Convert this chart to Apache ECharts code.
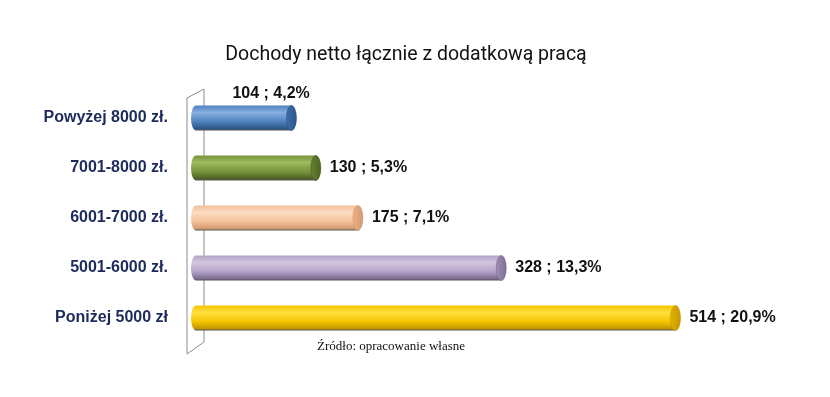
<!DOCTYPE html>
<html lang="pl">
<head>
    <meta charset="UTF-8">
    <title>Dochody netto</title>
    <script src="https://cdn.jsdelivr.net/npm/echarts@6/dist/echarts.min.js"></script>
    <style>
        html, body { margin: 0; padding: 0; background: #fff; }
        #main { width: 830px; height: 397px; }
    </style>
</head>
<body>
    <div id="main"></div>
    <script>
        var categories = ['Powyżej 8000 zł.', '7001-8000 zł.', '6001-7000 zł.', '5001-6000 zł.', 'Poniżej 5000 zł'];
        var counts = [104, 130, 175, 328, 514];
        var percents = ['4,2%', '5,3%', '7,1%', '13,3%', '20,9%'];

        // base, light, dark, cap
        var palette = [
            ['#4f81bd', '#86afe2', '#2c578c', '#3f6ea8'],
            ['#77933c', '#9dbb5f', '#4c6224', '#67822f'],
            ['#f4c19a', '#fcdcc2', '#d39a70', '#e9b185'],
            ['#b3a2c7', '#d2c6e0', '#7c6d91', '#a08fb6'],
            ['#f5c400', '#ffdf3d', '#c49700', '#e2b300']
        ];

        var G = { left: 191, right: 77, top: 93, bottom: 54 };
        var FONT = '"Liberation Sans Narrow", "Arial Narrow", "Liberation Sans", sans-serif';

        var chart = echarts.init(document.getElementById('main'));

        function renderBar(params, api) {
            var idx = api.value(0);
            var val = api.value(1);
            var p0 = api.coord([0, idx]);
            var p1 = api.coord([val, idx]);
            var h = api.size([0, 1])[1] * 0.5;
            var ry = h / 2, rx = 5;
            var x0 = p0[0], cy = p0[1];
            var x1 = p1[0] + 8; // cylinder end incl. cap
            var top = cy - ry, bot = cy + ry;
            var c = palette[idx];
            var body = 'M' + (x0 + rx) + ' ' + top + ' L' + (x1 - rx) + ' ' + top +
                ' A' + rx + ' ' + ry + ' 0 0 1 ' + (x1 - rx) + ' ' + bot +
                ' L' + (x0 + rx) + ' ' + bot +
                ' A' + rx + ' ' + ry + ' 0 0 1 ' + (x0 + rx) + ' ' + top + ' Z';
            var cx = x1 - rx;
            var cap = 'M' + (cx - rx) + ' ' + cy +
                ' A' + rx + ' ' + ry + ' 0 1 0 ' + (cx + rx) + ' ' + cy +
                ' A' + rx + ' ' + ry + ' 0 1 0 ' + (cx - rx) + ' ' + cy + ' Z';
            var label = counts[idx] + ' ; ' + percents[idx];
            var onTop = idx === 0;
            return {
                type: 'group',
                children: [
                    {
                        type: 'path',
                        shape: { pathData: body },
                        style: {
                            fill: new echarts.graphic.LinearGradient(0, 0, 0, 1, [
                                { offset: 0, color: c[0] },
                                { offset: 0.28, color: c[1] },
                                { offset: 0.65, color: c[0] },
                                { offset: 0.92, color: c[2] },
                                { offset: 1, color: '#555' }
                            ]),
                            stroke: null
                        }
                    },
                    {
                        type: 'path',
                        shape: { pathData: cap },
                        style: {
                            fill: new echarts.graphic.LinearGradient(0, 0, 1, 0, [
                                { offset: 0, color: c[3] },
                                { offset: 1, color: c[2] }
                            ]),
                            stroke: c[2],
                            lineWidth: 0.6
                        }
                    },
                    {
                        type: 'text',
                        style: {
                            text: label,
                            x: onTop ? x1 - 64 : x1 + 9,
                            y: onTop ? cy - 24 : cy,
                            align: 'left',
                            verticalAlign: 'middle',
                            fontFamily: FONT,
                            fontWeight: 'bold',
                            fontSize: 16,
                            fill: '#111'
                        }
                    }
                ]
            };
        }

        var seriesData = counts.map(function (v, i) { return [i, v]; });

        // 3D wall drawn from the grid box
        var gTop = G.top, gBot = 397 - G.bottom, gx = G.left;
        var wallStyle = { stroke: '#8c8c8c', lineWidth: 1, fill: null };

        chart.setOption({
            animation: false,
            title: {
                text: 'Dochody netto łącznie z dodatkową pracą',
                left: 401,
                top: 40,
                textAlign: 'center',
                textStyle: { fontFamily: 'Roboto, sans-serif', fontWeight: 'normal', fontSize: 19.5, color: '#111' }
            },
            grid: { left: G.left, right: G.right, top: G.top, bottom: G.bottom },
            xAxis: {
                type: 'value', min: 0, max: 600, show: false
            },
            yAxis: {
                type: 'category',
                inverse: true,
                data: categories,
                axisLine: { show: false },
                axisTick: { show: false },
                axisLabel: {
                    margin: 23,
                    color: '#1c2a5c',
                    fontFamily: FONT,
                    fontWeight: 'bold',
                    fontSize: 16
                }
            },
            graphic: [
                { type: 'polyline', z: 0, shape: { points: [[gx - 4, gTop + 5], [gx - 4, gBot + 11], [gx + 13, gBot - 1]] }, style: wallStyle },
                { type: 'polyline', z: 0, shape: { points: [[gx - 4, gTop + 5], [gx + 13, gTop - 4], [gx + 13, gBot - 1]] }, style: wallStyle },
                {
                    type: 'text', left: 317, top: 340,
                    style: { text: 'Źródło: opracowanie własne', fontFamily: '"Liberation Serif", serif', fontSize: 13, fill: '#111' }
                }
            ],
            series: [{
                type: 'custom',
                renderItem: renderBar,
                encode: { x: 1, y: 0 },
                z: 5,
                data: seriesData
            }]
        });
    </script>
</body>
</html>
